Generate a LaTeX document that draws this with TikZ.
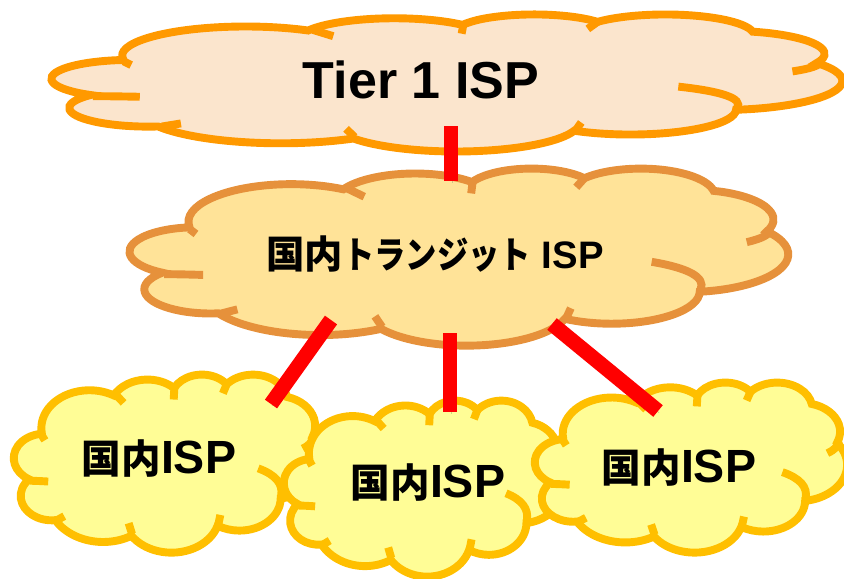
\documentclass[tikz,border=0pt]{standalone}
\usepackage{fontspec}
\setmainfont{Liberation Sans}
\newfontfamily\cjk{Noto Sans CJK JP}
\definecolor{tierline}{HTML}{FF9900}
\definecolor{tierfill}{HTML}{FBE5CD}
\definecolor{transline}{HTML}{E6913B}
\definecolor{transfill}{HTML}{FFE398}
\definecolor{ispline}{HTML}{FFBF00}
\definecolor{ispfill}{HTML}{FFFD96}
\tikzset{
  declare function={lobet(\r,\s,\a)=atan2(\r*sin(\a),\s*cos(\a));},
  lobeline/.style={line width=4.5pt},
  redlink/.style={draw=red, line width=8.5pt,
    preaction={draw=black!60, opacity=0.3, transform canvas={xshift=0.6pt,yshift=-1pt}}},
  cloudtext/.style={inner sep=0pt, font=\bfseries}
}
% cloud: x, y, width, height, fill, line
\newcommand{\cloudlobes}[6]{
  \begin{scope}[shift={(#1,#2)}, xscale=#3/432, yscale=#4/432]
    \draw[lobeline, fill=#5, draw=#6] (39,143.7)
      \foreach \rx/\ry/\st/\sw in {67.53/91.90/-190.49/123.78, 53.33/72.67/-144.10/89.95,
        43.65/59.45/-145.81/99.72, 48.57/65.95/-130.99/117.24, 53.33/72.73/-78.71/109.03,
        67.75/92.20/-46.27/130.27, 57.85/78.67/0.63/114.03, 67.52/92.15/22.45/115.17,
        77.20/105.43/66.24/75.71, 43.60/59.18/-274.94/146.74, 43.45/59.45/-246.83/152.52}
      { arc[start angle={lobet(\rx,\ry,\st)},
            delta angle={mod(lobet(\rx,\ry,\st+\sw)-lobet(\rx,\ry,\st)+720,360)},
            x radius=\rx, y radius=\ry] } -- cycle;
    \draw[lobeline, draw=#6] (22.4,259) to[bend left=2] (48,261);
    \draw[lobeline, draw=#6] (60,355) -- (70.5,345);
    \draw[lobeline, draw=#6] (160.8,362) -- (165.5,388);
    \draw[lobeline, draw=#6] (286.6,365) -- (289.4,342);
    \draw[lobeline, draw=#6] (374.7,295.6) to[bend right=32] (342.5,229);
    \draw[lobeline, draw=#6] (420.8,149) to[bend left=22] (404.9,181);
    \draw[lobeline, draw=#6] (299,22) -- (293,47);
    \draw[lobeline, draw=#6] (225,32) -- (224,62);
    \draw[lobeline, draw=#6] (142.6,50) -- (153.8,70);
    \draw[lobeline, draw=#6] (39.1,149) -- (43.3,161);
  \end{scope}
}
\newcommand{\naikoku}{{\cjk\fontsize{22.5}{24}\selectfont 国内}ISP}
\begin{document}
\begin{tikzpicture}[x=0.02cm, y=-0.02cm]
  \useasboundingbox (0,0) rectangle (844,578);
  \cloudlobes{52}{14}{790}{137}{tierfill}{tierline}
  \cloudlobes{130}{168}{658}{177}{transfill}{transline}
  \cloudlobes{14}{374}{308}{178}{ispfill}{ispline}
  \cloudlobes{284}{400}{280}{176}{ispfill}{ispline}
  \cloudlobes{535}{382}{312}{170}{ispfill}{ispline}

  \node[cloudtext, font=\bfseries\fontsize{29.6}{32}\selectfont] (tier) at (421,80) {Tier 1 ISP};
  \node[cloudtext, font=\bfseries\fontsize{21.8}{24}\selectfont] (trans) at (435,254)
    {{\cjk 国内{\fontsize{21}{24}\selectfont\addfontfeature{FakeStretch=0.85}トランジット}} ISP};
  \node[cloudtext, font=\bfseries\fontsize{26.5}{28}\selectfont] (ispa) at (159,459) {\naikoku};
  \node[cloudtext, font=\bfseries\fontsize{26.5}{28}\selectfont] (ispb) at (428,483) {\naikoku};
  \node[cloudtext, font=\bfseries\fontsize{26.5}{28}\selectfont] (ispc) at (679,468) {\naikoku};

  \coordinate (tierend) at (451,126);
  \coordinate (transtop) at (451,181);
  \coordinate (transa) at (331,320);
  \coordinate (transb) at (450,333);
  \coordinate (transc) at (552,324);
  \coordinate (ispaend) at (271,404);
  \coordinate (ispbend) at (450,412);
  \coordinate (ispcend) at (658,411);
  \draw[redlink] (tierend) -- (transtop);
  \draw[redlink] (transa) -- (ispaend);
  \draw[redlink] (transb) -- (ispbend);
  \draw[redlink] (transc) -- (ispcend);
\end{tikzpicture}
\end{document}
